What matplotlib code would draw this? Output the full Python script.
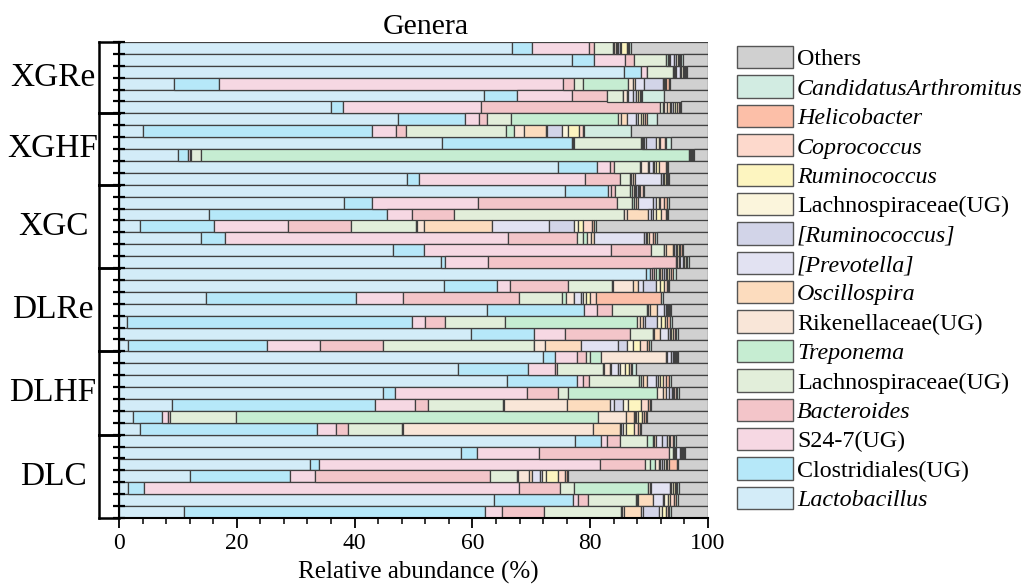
import numpy as np
import matplotlib
matplotlib.use("Agg")
import matplotlib.pyplot as plt
from matplotlib.patches import Patch
from matplotlib.lines import Line2D
import matplotlib.transforms as mtransforms

plt.rcParams["font.family"] = ["Liberation Serif", "DejaVu Serif"]

# group names (top to bottom) and number of samples in each
groups = ["XGRe", "XGHF", "XGC", "DLRe", "DLHF", "DLC"]
group_sizes = [6, 6, 7, 7, 7, 7]

# relative abundance (%) per sample, samples listed top to bottom
lactobacillus = [66.8, 76.9, 85.7, 9.3, 62.0, 36.0, 47.4, 4.1, 54.9, 10.0, 74.6, 48.9, 75.8, 38.2, 15.3, 3.5, 13.9, 46.6, 54.6, 89.4,
                 55.2, 14.7, 62.5, 1.3, 59.7, 1.6, 72.0, 57.5, 65.9, 44.8, 9.0, 2.4, 3.5, 77.5, 58.0, 32.4, 12.1, 1.5, 63.7, 11.1]
clostridiales = [3.4, 3.7, 2.9, 7.6, 5.6, 2.0, 11.4, 38.9, 22.0, 1.7, 6.5, 2.1, 7.3, 4.7, 30.2, 12.7, 4.1, 5.1, 0.8, 0.8,
                 9.0, 25.5, 16.5, 48.5, 10.7, 23.6, 2.1, 11.9, 11.8, 2.0, 34.4, 4.9, 30.2, 4.3, 2.7, 1.6, 16.9, 2.7, 13.3, 51.1]
s24_7 = [9.6, 5.3, 1.0, 58.5, 9.3, 23.4, 2.4, 4.0, 0.1, 0.3, 2.2, 28.2, 0.5, 18.0, 4.3, 12.5, 48.0, 31.9, 7.3, 0.3,
         2.2, 8.1, 2.1, 2.1, 5.3, 9.0, 3.6, 4.7, 1.0, 22.4, 6.9, 1.0, 3.2, 1.1, 10.6, 47.6, 4.2, 63.7, 0.9, 2.9]
bacteroides = [0.9, 1.5, 0.1, 1.9, 6.0, 30.5, 1.2, 1.7, 0.2, 0.2, 0.7, 5.8, 0.6, 23.6, 7.0, 10.7, 11.7, 6.8, 31.8, 0.3,
               9.8, 19.6, 2.6, 3.5, 11.1, 10.6, 1.6, 0.3, 1.1, 5.3, 2.2, 0.3, 1.9, 2.2, 22.0, 7.7, 29.8, 6.9, 1.7, 7.0]
lachnospiraceae_a = [3.2, 5.4, 4.3, 1.5, 2.6, 0.5, 4.2, 17.0, 11.5, 1.7, 4.5, 1.8, 2.6, 2.6, 28.9, 11.1, 1.1, 2.1, 0.2, 0.4,
                     7.5, 7.3, 6.0, 10.1, 3.8, 25.6, 0.7, 7.8, 8.5, 1.7, 12.7, 11.3, 9.2, 4.5, 0.7, 0.9, 4.6, 2.4, 8.2, 13.2]
treponema = [0.2, 0.4, 0.2, 7.6, 0.1, 0.2, 18.2, 1.4, 0.1, 82.9, 0.1, 0.2, 0.3, 0.3, 0.1, 0.1, 0.6, 0.1, 0.1, 0.4,
             0.1, 0.7, 0.1, 22.4, 0.1, 0.1, 1.9, 0.2, 0.3, 15.1, 0.1, 61.4, 0.2, 1.0, 0.2, 0.8, 0.1, 12.6, 0.1, 0.1]
rikenellaceae = [0.2, 0.2, 0.2, 0.9, 0.6, 0.4, 0.5, 1.6, 0.1, 0.1, 1.2, 0.3, 0.3, 0.4, 0.5, 1.2, 0.7, 0.2, 0.2, 0.3,
                 3.4, 1.3, 0.3, 0.6, 0.2, 1.8, 10.9, 0.9, 0.3, 1.1, 10.8, 4.8, 32.3, 0.3, 0.2, 0.6, 1.9, 0.3, 0.3, 0.3]
oscillospira = [0.3, 0.2, 0.2, 0.3, 0.3, 0.5, 1.0, 3.8, 0.2, 0.1, 0.2, 0.3, 0.2, 0.4, 3.5, 11.6, 0.5, 1.3, 0.2, 0.3,
                0.9, 0.1, 1.2, 0.4, 0.9, 6.2, 0.3, 0.2, 0.7, 0.5, 7.3, 1.3, 4.5, 0.2, 0.2, 0.3, 0.6, 0.3, 2.4, 2.9]
prevotella = [0.2, 0.6, 0.6, 1.5, 0.8, 0.3, 1.5, 0.1, 0.3, 0.1, 0.7, 4.5, 0.2, 2.4, 0.6, 9.6, 8.5, 0.2, 0.6, 0.3,
              0.8, 1.2, 1.3, 0.4, 1.4, 6.2, 0.7, 1.2, 1.6, 0.5, 0.6, 0.2, 0.2, 1.1, 0.6, 0.3, 1.2, 3.2, 1.7, 0.3]
ruminococcus_br = [0.3, 0.4, 0.3, 3.3, 0.5, 0.2, 0.4, 2.6, 1.8, 0.1, 0.2, 0.2, 0.3, 0.6, 0.3, 4.3, 0.3, 0.2, 0.2, 0.3,
                   2.3, 0.3, 0.2, 2.1, 0.3, 1.5, 0.2, 0.3, 0.3, 0.5, 1.6, 0.2, 0.3, 0.8, 0.2, 0.3, 0.5, 0.2, 0.3, 2.7]
lachnospiraceae_b = [0.2, 0.3, 0.2, 0.2, 0.3, 0.4, 0.4, 1.1, 0.4, 0.1, 0.3, 0.2, 0.2, 0.4, 0.5, 0.7, 0.3, 0.3, 0.2, 0.3,
                     0.6, 0.5, 0.2, 0.7, 0.3, 1.1, 0.2, 0.9, 0.4, 0.2, 0.9, 0.4, 0.6, 0.3, 0.2, 0.3, 0.6, 0.3, 0.6, 0.6]
ruminococcus = [1.0, 0.2, 0.2, 0.1, 0.3, 0.3, 0.3, 1.8, 0.3, 0.1, 0.4, 0.3, 0.2, 0.3, 0.8, 0.7, 0.2, 0.3, 0.1, 0.3,
                0.7, 0.6, 0.2, 0.6, 0.3, 1.2, 0.2, 0.7, 0.4, 0.2, 2.1, 0.6, 1.4, 0.3, 0.2, 0.3, 2.1, 0.3, 0.3, 0.7]
coprococcus = [0.1, 0.2, 0.2, 0.2, 0.2, 0.3, 0.4, 0.6, 0.8, 0.1, 1.3, 0.2, 0.5, 0.6, 0.8, 1.6, 0.7, 0.2, 0.1, 0.3,
               0.6, 1.1, 0.2, 0.4, 0.3, 1.1, 0.2, 0.3, 0.5, 0.3, 1.2, 0.3, 0.6, 0.5, 0.1, 0.2, 1.1, 0.2, 0.8, 0.3]
helicobacter = [0.2, 0.2, 0.1, 0.5, 0.2, 0.2, 0.4, 0.3, 0.2, 0.1, 0.1, 0.2, 0.1, 0.5, 0.2, 0.3, 0.4, 0.3, 0.1, 0.4,
                0.1, 11.1, 0.1, 0.4, 0.2, 0.4, 0.1, 0.2, 0.5, 0.2, 0.3, 0.3, 0.3, 0.2, 0.1, 1.4, 0.3, 0.2, 0.3, 0.2]
candidatus_arthromitus = [0.3, 0.3, 0.2, 0.1, 3.7, 0.2, 1.7, 8.0, 0.9, 0.1, 0.2, 0.2, 0.0, 0.4, 0.2, 0.3, 0.3, 0.2, 0.2, 0.4,
                          0.1, 0.2, 0.2, 0.4, 0.3, 0.4, 0.2, 0.7, 0.4, 0.2, 0.3, 0.2, 0.2, 0.2, 0.1, 0.2, 0.2, 0.2, 0.3, 0.3]
others = [13.1, 4.2, 3.6, 6.5, 7.5, 4.6, 8.6, 13.0, 6.2, 2.3, 6.8, 6.6, 10.9, 6.6, 6.8, 19.1, 8.7, 4.2, 3.3, 5.5,
          6.7, 7.7, 6.3, 6.1, 5.1, 9.6, 5.1, 12.2, 6.3, 5.0, 9.6, 10.4, 11.4, 5.5, 3.9, 5.1, 23.8, 5.0, 5.1, 6.3]

# stacking order (left to right): label, values, colour, italic
taxa = [
    ("Lactobacillus", lactobacillus, "#d3ecf8", True),
    ("Clostridiales(UG)", clostridiales, "#b6e8f9", False),
    ("S24-7(UG)", s24_7, "#f6d8e3", False),
    ("Bacteroides", bacteroides, "#f3c5c9", True),
    ("Lachnospiraceae(UG)", lachnospiraceae_a, "#e2eeda", False),
    ("Treponema", treponema, "#c6edd2", True),
    ("Rikenellaceae(UG)", rikenellaceae, "#f9e6d8", False),
    ("Oscillospira", oscillospira, "#fcdcbe", True),
    ("[Prevotella]", prevotella, "#e2e2f2", True),
    ("[Ruminococcus]", ruminococcus_br, "#d2d4e8", True),
    ("Lachnospiraceae(UG)", lachnospiraceae_b, "#fbf5dc", False),
    ("Ruminococcus", ruminococcus, "#fdf5c0", True),
    ("Coprococcus", coprococcus, "#fdd9cc", True),
    ("Helicobacter", helicobacter, "#fcbfa8", True),
    ("CandidatusArthromitus", candidatus_arthromitus, "#d2ece2", True),
    ("Others", others, "#d0d0d0", False),
]

W, H = 1025, 587
fig = plt.figure(figsize=(W / 100, H / 100), dpi=100)
ax = fig.add_axes([119 / W, 1 - 518 / H, 589 / W, 476 / H])

n = len(lactobacillus)
ypos = np.arange(n)[::-1]
left = np.zeros(n)
edge = "#404040"
for label, vals, col, _ in taxa:
    vals = np.asarray(vals, dtype=float)
    ax.barh(ypos, vals, left=left, height=1.0, color=col,
            edgecolor=edge, linewidth=0.9)
    left += vals

ax.set_xlim(0, 100)
ax.set_ylim(-0.5, n - 0.5)

# axes styling
for s in ("top", "right"):
    ax.spines[s].set_visible(False)
for s in ("left", "bottom"):
    ax.spines[s].set_linewidth(1.5)
    ax.spines[s].set_color("black")

ax.set_xticks(np.arange(0, 101, 20))
ax.set_xticks(np.arange(0, 101, 4), minor=True)
ax.tick_params(axis="x", which="major", direction="out", length=7, width=1.3,
               labelsize=17, pad=4)
ax.tick_params(axis="x", which="minor", direction="out", length=4, width=1.1)
ax.set_yticks(np.arange(-0.5, n, 1.0))
ax.set_yticklabels([])
ax.tick_params(axis="y", which="major", direction="inout", length=8, width=1.6)

ax.set_xlabel("Relative abundance (%)", fontsize=18, labelpad=5, x=0.508)
ax.set_title("Genera", fontsize=21.5, pad=6, x=0.521)

# group brackets and labels
trans = mtransforms.blended_transform_factory(ax.transAxes, ax.transData)
xb = -0.034
top = n - 0.5
for name, size in zip(groups, group_sizes):
    bot = top - size
    ax.add_line(Line2D([xb, xb], [top, bot], transform=trans, color="black",
                       lw=1.8, clip_on=False))
    for yy in (top, bot):
        ax.add_line(Line2D([xb, 0], [yy, yy], transform=trans, color="black",
                           lw=1.8, clip_on=False))
    ax.text(-0.112, (top + bot) / 2, name, transform=trans, ha="center",
            va="center", fontsize=24)
    top = bot

# legend, top entry is the last stacked taxon
handles = [Patch(facecolor=c, edgecolor="#555555", linewidth=1.0)
           for _, _, c, _ in taxa[::-1]]
labels = [t[0] for t in taxa[::-1]]
leg = fig.legend(handles, labels, loc="upper left",
                 bbox_to_anchor=(737 / W, 1 - 46 / H), frameon=False,
                 fontsize=17.3, handlelength=2.35, handleheight=1.05,
                 labelspacing=0.21, handletextpad=0.15, borderpad=0,
                 borderaxespad=0)
for txt, (_, _, _, it) in zip(leg.get_texts(), taxa[::-1]):
    if it:
        txt.set_fontstyle("italic")

fig.savefig("out.png", dpi=100)
